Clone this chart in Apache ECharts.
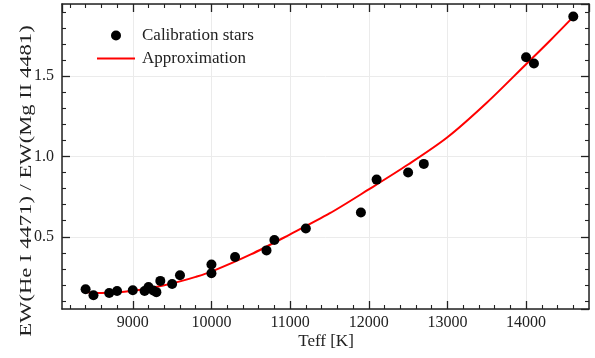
<!DOCTYPE html>
<html>
<head>
<meta charset="utf-8">
<script src="https://cdn.jsdelivr.net/npm/echarts@6/dist/echarts.min.js"></script>
<style>html,body{margin:0;padding:0;background:#fff}#c{width:595px;height:358px}</style>
</head>
<body>
<div id="c"></div>
<script>
const starTeff = [8400, 8500, 8700, 8800, 9000, 9150, 9200, 9260, 9300, 9350, 9500, 9600, 10000, 10000, 10300, 10700, 10800, 11200, 11900, 12100, 12500, 12700, 14000, 14100, 14600];
const starRatio = [0.173, 0.136, 0.150, 0.162, 0.167, 0.162, 0.187, 0.165, 0.155, 0.225, 0.206, 0.260, 0.327, 0.273, 0.374, 0.415, 0.480, 0.552, 0.651, 0.856, 0.900, 0.954, 1.618, 1.579, 1.872];
const fitTeff = [8400, 8600, 8800, 9000, 9200, 9400, 9600, 9800, 10000, 10500, 11000, 11500, 12000, 12500, 13000, 13500, 14000, 14300, 14600];
const fitRatio = [0.155, 0.150, 0.153, 0.163, 0.178, 0.198, 0.222, 0.250, 0.283, 0.390, 0.515, 0.645, 0.795, 0.950, 1.120, 1.335, 1.575, 1.720, 1.870];
const xMinorTicks = [8200, 8400, 8600, 8800, 9200, 9400, 9600, 9800, 10200, 10400, 10600, 10800, 11200, 11400, 11600, 11800, 12200, 12400, 12600, 12800, 13200, 13400, 13600, 13800, 14200, 14400, 14600];
const yMinorTicks = [0.1, 0.2, 0.3, 0.4, 0.6, 0.7, 0.8, 0.9, 1.1, 1.2, 1.3, 1.4, 1.6, 1.7, 1.8, 1.9];
const xLabel = 'Teff [K]';
const yLabel = 'EW(He I 4471) / EW(Mg II 4481)';
const seriesNames = ['Calibration stars', 'Approximation'];

const FONT = 'Liberation Serif';
const AX = '#222';
const xMin = 8100, xMax = 14800, yMin = 0.05, yMax = 1.95;

function xAx(pos, major, showLabel, showLine, showSplit) {
  return {
    type: 'value', position: pos, min: xMin, max: xMax, splitNumber: 5,
    axisLine: {show: showLine, onZero: false, lineStyle: {color: AX, width: 1.5}},
    axisTick: major ? {show: true, inside: true, length: 8, lineStyle: {color: AX, width: 1.3}}
                    : {show: true, inside: true, length: 4, customValues: xMinorTicks, lineStyle: {color: AX, width: 1.1}},
    axisLabel: {show: showLabel, showMinLabel: false, showMaxLabel: false, fontFamily: FONT, fontSize: 16, color: '#222', margin: 6,
      formatter: v => String(v)},
    splitLine: {show: showSplit, lineStyle: {color: '#ebebeb', width: 1}}
  };
}
function yAx(pos, major, showLabel, showLine, showSplit) {
  return {
    type: 'value', position: pos, min: yMin, max: yMax, splitNumber: 4,
    axisLine: {show: showLine, onZero: false, lineStyle: {color: AX, width: 1.5}},
    axisTick: major ? {show: true, inside: true, length: 8, lineStyle: {color: AX, width: 1.3}}
                    : {show: true, inside: true, length: 4, customValues: yMinorTicks, lineStyle: {color: AX, width: 1.1}},
    axisLabel: {show: showLabel, showMinLabel: false, showMaxLabel: false, fontFamily: FONT, fontSize: 16, color: '#222', margin: 8,
      formatter: v => v.toFixed(1)},
    splitLine: {show: showSplit, lineStyle: {color: '#ebebeb', width: 1}}
  };
}

const chart = echarts.init(document.getElementById('c'), null, {renderer: 'canvas'});
chart.setOption({
  animation: false,
  backgroundColor: '#fff',
  grid: {left: 62, right: 6, top: 4, bottom: 49, containLabel: false},
  xAxis: [xAx('bottom', true, true, true, true), xAx('bottom', false, false, false, false),
          xAx('top', true, false, true, false), xAx('top', false, false, false, false)],
  yAxis: [yAx('left', true, true, true, true), yAx('left', false, false, false, false),
          yAx('right', true, false, true, false), yAx('right', false, false, false, false)],
  legend: {
    orient: 'vertical', left: 92, top: 22, itemWidth: 38, itemHeight: 10, itemGap: 6,
    textStyle: {fontFamily: FONT, fontSize: 17, color: '#222', padding: [0, 0, 0, 2]},
    data: [
      {name: seriesNames[0], icon: 'circle', itemStyle: {color: '#000', opacity: 1}},
      {name: seriesNames[1], icon: 'path://M0,0 L0.01,0 L0,0 Z M0,4 L38,4 L38,6 L0,6 Z M0,10 L0.01,10 L0,10 Z', itemStyle: {color: '#ff0000'}}
    ]
  },
  graphic: [
    {type: 'text', x: 326, y: 342, style: {text: xLabel, font: '17px "Liberation Serif"', fill: '#222', align: 'center', verticalAlign: 'middle'}},
    {type: 'text', x: 27, y: 181, rotation: Math.PI / 2, scaleX: 1.33,
     style: {text: yLabel, font: '17px "Liberation Serif"', fill: '#222', align: 'center', verticalAlign: 'middle'}}
  ],
  series: [
    {name: seriesNames[0], type: 'scatter', xAxisIndex: 0, yAxisIndex: 0, symbol: 'circle', symbolSize: 10,
     itemStyle: {color: '#000', opacity: 1}, z: 3,
     data: starTeff.map((t, i) => [t, starRatio[i]])},
    {name: seriesNames[1], type: 'line', xAxisIndex: 0, yAxisIndex: 0, symbol: 'none', smooth: 0.3,
     lineStyle: {color: '#ff0000', width: 2}, itemStyle: {color: '#ff0000'}, z: 2,
     data: fitTeff.map((t, i) => [t, fitRatio[i]])}
  ]
});
</script>
</body>
</html>
